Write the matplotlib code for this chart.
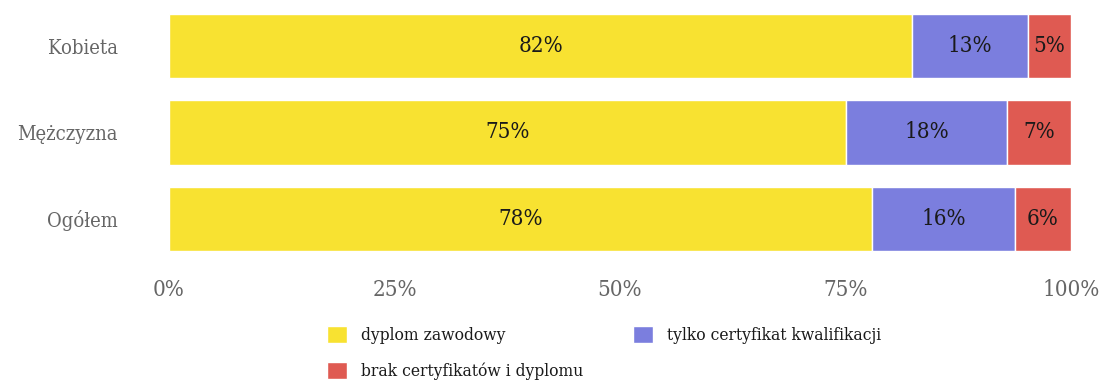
import matplotlib
matplotlib.use("Agg")
import matplotlib.pyplot as plt
import numpy as np

plt.rcParams["font.family"] = ["DejaVu Serif"]
plt.rcParams["font.stretch"] = "condensed"

# udział w grupach (procent)
groups = ["Kobieta", "Mężczyzna", "Ogółem"]
dyplom = [82.4, 75.1, 77.9]
certyfikat = [12.8, 17.8, 15.9]
brak = [4.8, 7.1, 6.2]
series_names = ["dyplom zawodowy", "tylko certyfikat kwalifikacji", "brak certyfikatów i dyplomu"]
colors = ["#F8E231", "#7B7EDE", "#DF5A52"]
xticks = [0, 25, 50, 75, 100]

W, H = 1103, 382
fig = plt.figure(figsize=(W / 100, H / 100), dpi=100)
ax = fig.add_axes([169 / W, 1 - 262 / H, (1071 - 169) / W, (262 - 3) / H])

y = np.arange(len(groups))
left = np.zeros(len(groups))
handles = []
for vals, name, c in zip([dyplom, certyfikat, brak], series_names, colors):
    vals = np.array(vals)
    b = ax.barh(y, vals, left=left, height=0.745, color=c, edgecolor="white",
                linewidth=1, label=name)
    handles.append(b)
    for yi, l, v in zip(y, left, vals):
        ax.text(l + v / 2, yi, f"{v:.0f}%", ha="center", va="center",
                fontsize=16, color="#1a1a1a")
    left = left + vals

ax.set_xlim(0, 100)
ax.set_ylim(len(groups) - 0.5, -0.5)
ax.set_yticks(y)
ax.set_yticklabels(groups)
ax.set_xticks(xticks)
ax.set_xticklabels([f"{t}%" for t in xticks])
ax.tick_params(axis="both", length=0, labelcolor="#666666")
ax.tick_params(axis="y", labelsize=14.5, pad=37)
ax.tick_params(axis="x", labelsize=16, pad=12)
for s in ax.spines.values():
    s.set_visible(False)

# kolejność kolumnowa: dyplom, brak | certyfikat
order = [0, 2, 1]
leg = fig.legend(handles=[handles[i] for i in order],
                 labels=[series_names[i] for i in order], ncol=2,
                 loc="upper left", bbox_to_anchor=(327 / W, 1 - 326 / H),
                 frameon=False, fontsize=12.5, handlelength=1.15, handleheight=1.15,
                 handletextpad=0.8, columnspacing=2.9, labelspacing=1.0,
                 borderaxespad=0, borderpad=0)
for t in leg.get_texts():
    t.set_color("#1a1a1a")

fig.savefig("out.png", dpi=100)
